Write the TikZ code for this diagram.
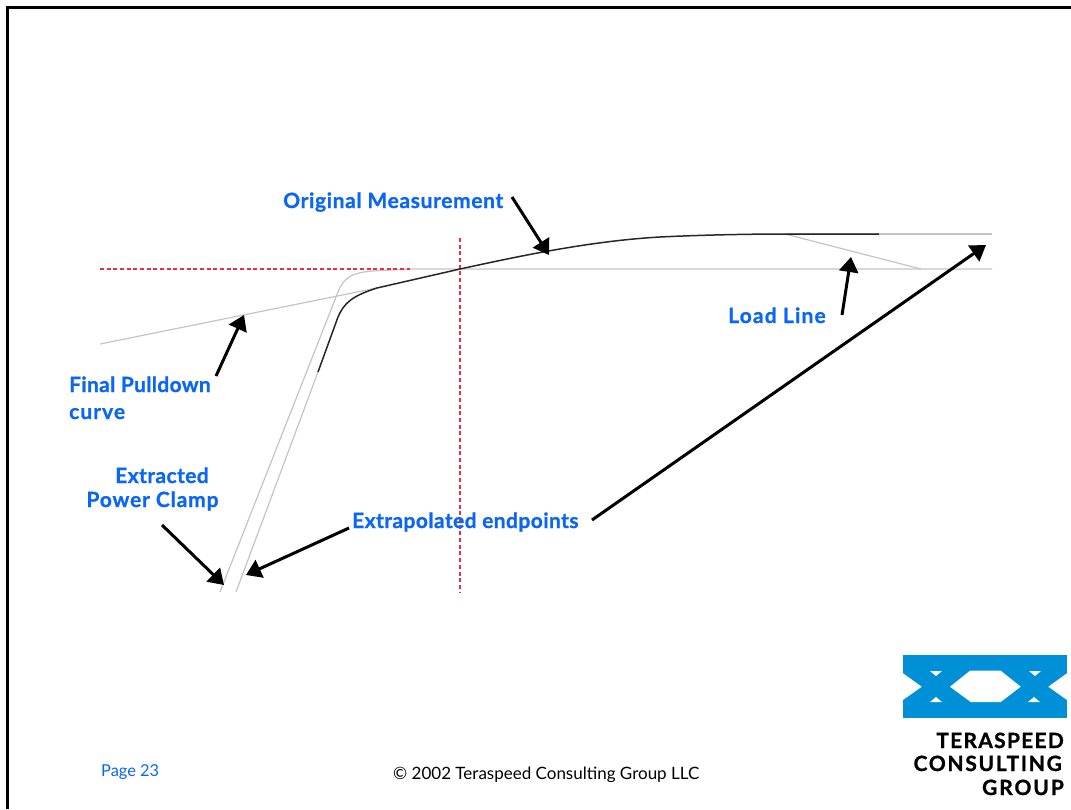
\documentclass[tikz,border=0pt]{standalone}
\usepackage{fontspec}
\setmainfont[BoldFeatures={FakeBold=1.0}]{Lato}
\usetikzlibrary{arrows.meta}
\definecolor{lblue}{HTML}{0A66F5}
\definecolor{logoblue}{HTML}{0090D8}
\definecolor{redd}{HTML}{E83040}
\definecolor{grayl}{HTML}{C4C4C4}
\newcommand{\ls}[1]{\addfontfeature{LetterSpace=#1}}
\tikzset{
  x=1pt,y=-1pt,
  lbl/.style={inner sep=0pt,font=\fontsize{21}{24}\selectfont\bfseries,text=lblue,align=center},
  logotxt/.style={inner sep=0pt,font=\fontsize{21}{24}\selectfont\bfseries,text=black,anchor=base east},
  ptr/.style={draw=black,line width=3pt,-{Triangle[length=15pt,width=19pt]},shorten >=0pt},
  gline/.style={draw=grayl,line width=1.2pt},
  rdash/.style={draw=redd,line width=1.3pt,dash pattern=on 4pt off 2.67pt},
  white poly/.style={fill=white,draw=none}
}
\begin{document}
\begin{tikzpicture}
\useasboundingbox (0,0) rectangle (1071,809);
% frame
\draw[black,line width=2.6pt] (7.5,809) -- (7.5,7.5) -- (1071,7.5);
% grey curves
\coordinate (hr) at (992,269);
\draw[gline] (220,592) -- (338,292) .. controls (344,277) and (352,273) .. (372,271) -- (410,269) -- (hr);
\draw[gline] (236,592) -- (318,372);
\draw[gline] (100,344) -- (377,288);
\coordinate (tr) at (992,234);
\draw[gline] (785,234) -- (tr);
\draw[gline] (785,234) -- (921,269);
% red guides
\coordinate (hs) at (100,269); \coordinate (he) at (410,269);
\draw[rdash] (hs) -- (he);
\coordinate (vs) at (460,238); \coordinate (ve) at (460,592);
\draw[rdash] (vs) -- (ve);
% measurement
\draw[black!85,line width=1.5pt] (318,372) -- (338,317) .. controls (344,303) and (352,296) .. (377,288) -- (460,269) .. controls (520,256) and (590,241) .. (660,237) .. controls (700,235) and (750,234) .. (785,234) -- (879,234);
% labels
\node[lbl,anchor=base west] (orig) at (283,208) {\ls{3}Original Measurement};
\node[lbl,anchor=base west] (load) at (728,323) {\ls{5.5}Load Line};
\node[lbl,anchor=base west] (final) at (69,392) {\ls{1.5}Final Pulldown};
\node[lbl,anchor=base west] (finalb) at (69,419) {\ls{5}curve};
\node[lbl,anchor=base] (extr) at (162,483) {\ls{2}Extracted};
\node[lbl,anchor=base] (power) at (152.5,507) {\ls{4}Power Clamp};
\node[lbl,anchor=base west] (endp) at (352,528) {\ls{2}Extrapolated endpoints};
% arrows
\coordinate (a1s) at (512,197); \coordinate (a1e) at (549,255);
\coordinate (a2s) at (842,315); \coordinate (a2e) at (851,257);
\coordinate (a3s) at (216,376); \coordinate (a3e) at (244,315);
\coordinate (a4s) at (162,525); \coordinate (a4e) at (224,585);
\coordinate (a5s) at (349,528); \coordinate (a5e) at (246,575);
\coordinate (a6s) at (592,520); \coordinate (a6e) at (986,245);
\foreach \s/\e in {a1s/a1e,a2s/a2e,a3s/a3e,a4s/a4e,a5s/a5e,a6s/a6e} \draw[ptr] (\s) -- (\e);
% logo
\fill[logoblue] (903,655) rectangle (1067,718);
\fill[white poly] (950,686.7) -- (970,670.7) -- (1000.7,670.7) -- (1020.7,686.7) -- (1000.7,702) -- (970.7,702) -- cycle;
\fill[white poly] (903,673.3) -- (921.7,686.7) -- (903,700) -- cycle;
\fill[white poly] (1067,673.3) -- (1048.3,686.7) -- (1067,700) -- cycle;
\fill[white poly] (930,671) -- (942,671) -- (936,676) -- cycle;
\fill[white poly] (930,702) -- (942,702) -- (936,697) -- cycle;
\fill[white poly] (1029,671) -- (1041,671) -- (1035,676) -- cycle;
\fill[white poly] (1028,702) -- (1040,702) -- (1034,697) -- cycle;
\node[logotxt] (t1) at (1064,748) {\ls{6}TERASPEED};
\node[logotxt] (t2) at (1062,771) {\ls{8}CONSULTING};
\node[logotxt] (t3) at (1064,795) {\ls{9}GROUP};
% footer
\node[inner sep=0pt,anchor=base west,font=\fontsize{16.4}{20}\selectfont,text=lblue] (pg) at (101,776) {Page 23};
\node[inner sep=0pt,anchor=base west,font=\fontsize{17}{20}\selectfont,text=black] (cp) at (393,779) {© 2002 Teraspeed Consulting Group LLC};
\end{tikzpicture}
\end{document}
